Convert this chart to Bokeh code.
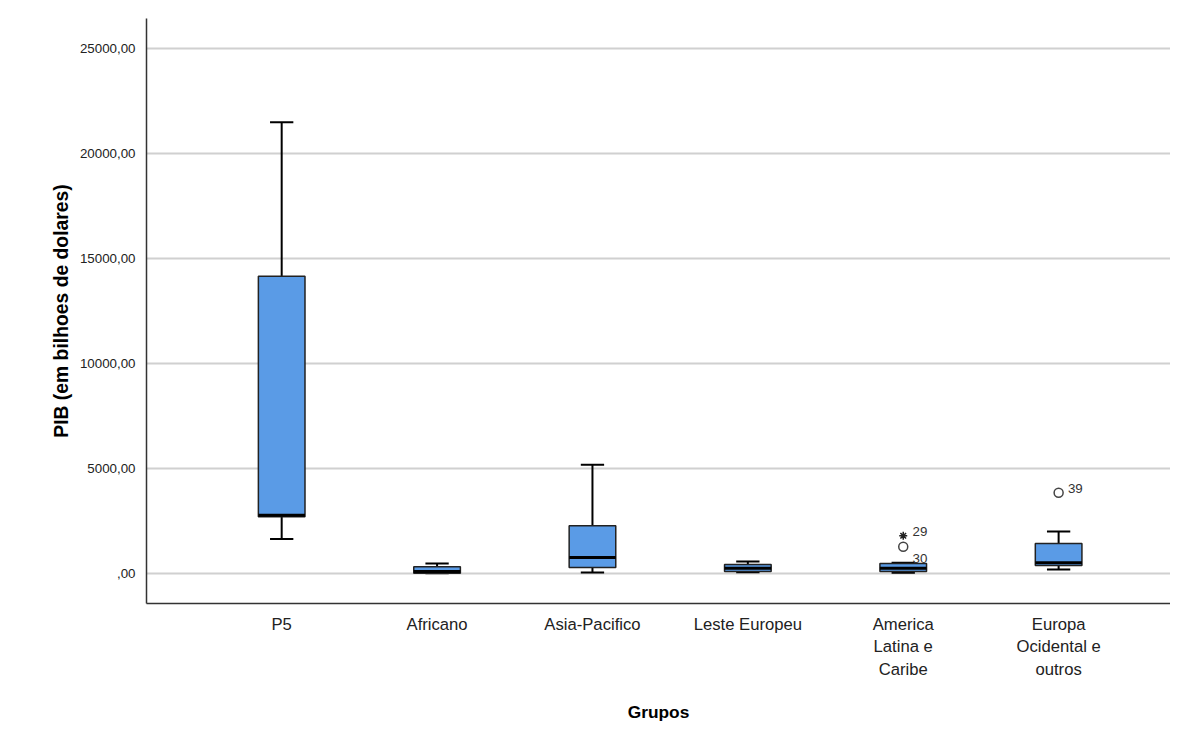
from bokeh.plotting import figure
from bokeh.models import FixedTicker, Range1d
from bokeh.core.properties import value
from bokeh.embed import file_html
from bokeh.resources import INLINE

groups = ["P5", "Africano", "Asia-Pacifico", "Leste Europeu",
          "America\nLatina e\nCaribe", "Europa\nOcidental e\noutros"]
lower = [1650, 20, 50, 60, 40, 190]
q1 = [2700, 20, 285, 100, 100, 380]
median = [2780, 100, 760, 250, 250, 520]
q3 = [14160, 330, 2280, 430, 475, 1430]
upper = [21480, 475, 5180, 570, 520, 2000]
out_circle_x = [4, 5]
out_circle_y = [1280, 3850]
out_star_x = [4]
out_star_y = [1800]
labels_x = [4, 4, 5]
labels_y = [1800, 480, 3850]
labels_txt = ["29", "30", "39"]

xs = list(range(len(groups)))
font = "Liberation Sans"
blue = "#5a9be6"

p = figure(width=1170, height=725, output_backend="svg", toolbar_location=None,
           x_range=Range1d(-0.87, 5.72), y_range=Range1d(-1425, 26425),
           min_border_left=146, min_border_top=18, min_border_bottom=113, min_border_right=0)
p.outline_line_color = None
p.xgrid.grid_line_color = None
p.ygrid.grid_line_color = "#d0d0d0"
p.ygrid.grid_line_width = 2

w = 0.3
p.segment(xs, upper, xs, q3, color="black", line_width=2)
p.segment(xs, lower, xs, q1, color="black", line_width=2)
p.segment([x - w / 4 for x in xs], upper, [x + w / 4 for x in xs], upper, color="black", line_width=2)
p.segment([x - w / 4 for x in xs], lower, [x + w / 4 for x in xs], lower, color="black", line_width=2)
p.vbar(x=xs, width=w, bottom=q1, top=q3, fill_color=blue, line_color="#222222", line_width=1.5)
p.segment([x - w / 2 for x in xs], median, [x + w / 2 for x in xs], median, color="black", line_width=3)
p.scatter(out_circle_x, out_circle_y, marker="circle", size=9, fill_color="white", line_color="#444444", line_width=1.5)
p.scatter(out_star_x, out_star_y, marker="asterisk", size=8, line_color="#222222", line_width=1.5)
p.text([x + 0.06 for x in labels_x], labels_y, text=labels_txt, text_font_size="10pt",
       text_font=value(font), text_baseline="bottom", text_color="#333333")

yt = [0, 5000, 10000, 15000, 20000, 25000]
p.yaxis.ticker = FixedTicker(ticks=yt)
p.yaxis.major_label_overrides = {t: (",00" if t == 0 else f"{t},00") for t in yt}
p.xaxis.ticker = FixedTicker(ticks=xs)
p.xaxis.major_label_overrides = {i: g for i, g in enumerate(groups)}
for ax in (p.xaxis, p.yaxis):
    ax.major_tick_line_color = None
    ax.minor_tick_line_color = None
    ax.axis_line_color = "#333333"
    ax.axis_line_width = 1.5
    ax.major_label_text_font = font
    ax.axis_label_text_font = font
    ax.axis_label_text_font_style = "bold"
    ax.axis_label_text_color = "black"
    ax.major_label_text_color = "#222222"
p.yaxis.axis_label_text_font_size = "14.5pt"
p.xaxis.axis_label_text_font_size = "13pt"
p.yaxis.major_label_text_font_size = "10pt"
p.xaxis.major_label_text_font_size = "12.5pt"
p.yaxis.axis_label = "PIB (em bilhoes de dolares)"
p.xaxis.axis_label = "Grupos"
p.xaxis.axis_label_standoff = 20

open("out.html", "w").write(file_html(p, INLINE))
